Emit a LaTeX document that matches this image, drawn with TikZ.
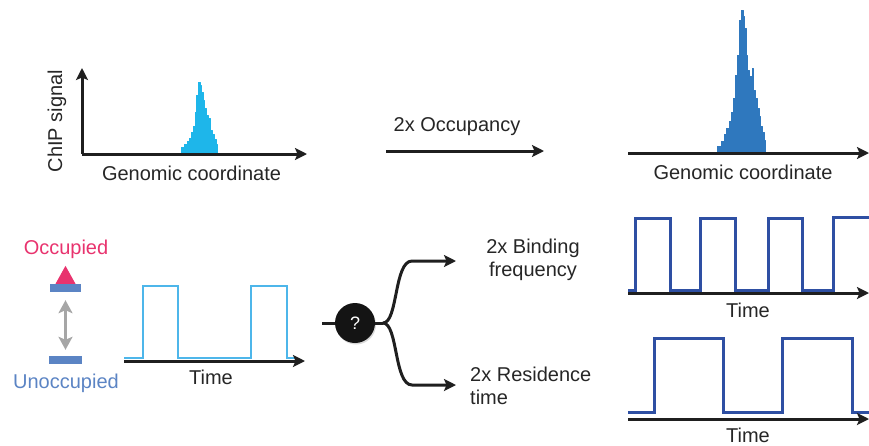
\documentclass[tikz,border=0pt]{standalone}
\usepackage{fontspec}
\setmainfont{Liberation Sans}
\usetikzlibrary{arrows.meta,shadows}
\definecolor{cyanpk}{RGB}{30,182,234}
\definecolor{bluepk}{RGB}{47,120,190}
\definecolor{occ}{RGB}{232,51,110}
\definecolor{unocc}{RGB}{91,132,196}
\definecolor{lightsig}{RGB}{77,182,234}
\definecolor{darksig}{RGB}{46,79,163}
\definecolor{greyarr}{RGB}{166,166,166}
\tikzset{
  axis/.style={line width=3pt, color=black!88, -{Stealth[length=12pt,width=12pt,inset=2.5pt]}},
  conn/.style={line width=3pt, color=black!88, -{Stealth[length=12pt,width=12pt,inset=2.5pt]}},
  plainline/.style={line width=3pt, color=black!88},
  sigl/.style={line width=2.8pt, color=lightsig, line join=miter},
  sigd/.style={line width=3pt, color=darksig, line join=miter},
  lbl/.style={inner sep=0pt, font=\fontsize{20}{23.5}\selectfont, text=black!85},
  bar/.style={fill=unocc, minimum height=8pt, inner sep=0pt},
}
\begin{document}
\begin{tikzpicture}[x=1pt,y=-1pt]
\useasboundingbox (0,0) rectangle (869,445);

% ---------- top left ChIP plot
\coordinate (o1) at (82,154);
\coordinate (ytip1) at (82,68);
\coordinate (xtip1) at (307,154);
\filldraw[cyanpk, line width=0.6pt, line join=round] (181,154) -- (181,147) -- (184,147) -- (184,144) -- (187,144) -- (187,141) -- (189,141) -- (189,138) -- (191,138) -- (191,132) -- (193,132) -- (193,126) -- (195,126) -- (195,112) -- (196,112) -- (196,95) -- (198,95) -- (198,82) -- (200,82) -- (200,85) -- (201,85) -- (201,92) -- (203,92) -- (203,100) -- (204,100) -- (204,108) -- (206,108) -- (206,115) -- (208,115) -- (208,122) -- (209,122) -- (209,118) -- (210,118) -- (210,130) -- (212,130) -- (212,134) -- (214,134) -- (214,139) -- (216,139) -- (216,144) -- (217,144) -- (217,154) -- cycle;
\draw[axis] (o1) -- (ytip1);
\draw[axis] (o1) -- (xtip1);
\node[lbl, rotate=90] (ylab) at (57,121) {ChIP signal};
\node[lbl] (xlab1) at (191.5,173) {Genomic coordinate};

% ---------- middle arrow
\node[lbl] (occlab) at (457,127) {2x Occupancy};
\coordinate (ma1) at (386,151);
\coordinate (ma2) at (544,151);
\draw[conn] (ma1) -- (ma2);

% ---------- top right ChIP plot
\coordinate (o2) at (628,153);
\coordinate (xtip2) at (869,153);
\filldraw[bluepk, line width=0.6pt, line join=round] (717,153) -- (717,146) -- (721,146) -- (721,141) -- (724,141) -- (724,134) -- (726,134) -- (726,128) -- (729,128) -- (729,121) -- (731,121) -- (731,112) -- (733,112) -- (733,98) -- (735,98) -- (735,75) -- (737,75) -- (737,55) -- (739,55) -- (739,20) -- (741,20) -- (741,10) -- (743,10) -- (743,16) -- (744,16) -- (744,28) -- (746,28) -- (746,55) -- (747,55) -- (747,70) -- (749,70) -- (749,82) -- (750,82) -- (750,76) -- (752,76) -- (752,68) -- (753,68) -- (753,90) -- (755,90) -- (755,98) -- (757,98) -- (757,108) -- (759,108) -- (759,116) -- (760,116) -- (760,126) -- (762,126) -- (762,132) -- (764,132) -- (764,140) -- (765,140) -- (765,153) -- cycle;
\draw[axis] (o2) -- (xtip2);
\node[lbl] (xlab2) at (743,172) {Genomic coordinate};

% ---------- bottom left: states
\node[lbl, text=occ] (occtxt) at (66,249) {Occupied};
\node[bar, minimum width=31pt] (bartop) at (65.5,288) {};
\fill[occ] ([xshift=-10pt]bartop.north) -- ([yshift=18pt]bartop.north) -- ([xshift=10pt]bartop.north) -- cycle;
\node[bar, minimum width=33pt] (barbot) at (65.5,360) {};
\draw[greyarr, line width=2.8pt, {Stealth[length=13pt,width=14pt,inset=3pt]}-{Stealth[length=13pt,width=14pt,inset=3pt]}] ([yshift=-8pt]bartop.south) -- ([yshift=6pt]barbot.north);
\node[lbl, text=unocc] (unocctxt) at (66,383) {Unoccupied};

% ---------- bottom left time trace
\coordinate (o3) at (124,361);
\coordinate (xtip3) at (305,361);
\draw[sigl] (124,358) -- (143,358) -- (143,286) -- (178,286) -- (178,358) -- (251,358) -- (251,286) -- (287,286) -- (287,358) -- (297,358);
\draw[axis] (o3) -- (xtip3);
\node[lbl] (time1) at (211,377) {Time};

% ---------- branching
\coordinate (in) at (322,323);
\node[circle, fill=black!92, minimum size=40pt, inner sep=0pt, text=white,
      font=\fontsize{18}{20}\selectfont, drop shadow={opacity=0.3, shadow xshift=1pt, shadow yshift=-1.5pt}] (q) at (355,323) {?};
\draw[plainline] (in) -- (q);
\coordinate (split) at (383,323);
\coordinate (t1) at (456,261);
\coordinate (t2) at (456,385);
\draw[plainline] (q.east) -- (split);
\draw[conn] (split) .. controls (398,323) and (394,261) .. (412,261) -- (t1);
\draw[conn] (split) .. controls (398,323) and (394,385) .. (412,385) -- (t2);
\node[lbl, align=center] (bf) at (533,260) {2x Binding\\frequency};
\node[lbl, align=left, anchor=west] (rt) at (470,386) {2x Residence\\time};

% ---------- right: binding frequency trace
\coordinate (o4) at (628,293);
\coordinate (xtip4) at (869,293);
\draw[sigd] (628,290) -- (635,290) -- (635,218) -- (670,218) -- (670,290) -- (700,290) -- (700,218) -- (735,218) -- (735,290) -- (768,290) -- (768,218) -- (802,218) -- (802,290) -- (833,290) -- (833,217) -- (869,217);
\draw[axis] (o4) -- (xtip4);
\node[lbl] (time2) at (748,310) {Time};

% ---------- right: residence time trace
\coordinate (o5) at (628,419);
\coordinate (xtip5) at (869,419);
\draw[sigd] (628,412) -- (654,412) -- (654,338) -- (723,338) -- (723,412) -- (782,412) -- (782,338) -- (852,338) -- (852,412) -- (869,412);
\draw[axis] (o5) -- (xtip5);
\node[lbl] (time3) at (748,435) {Time};
\end{tikzpicture}
\end{document}
